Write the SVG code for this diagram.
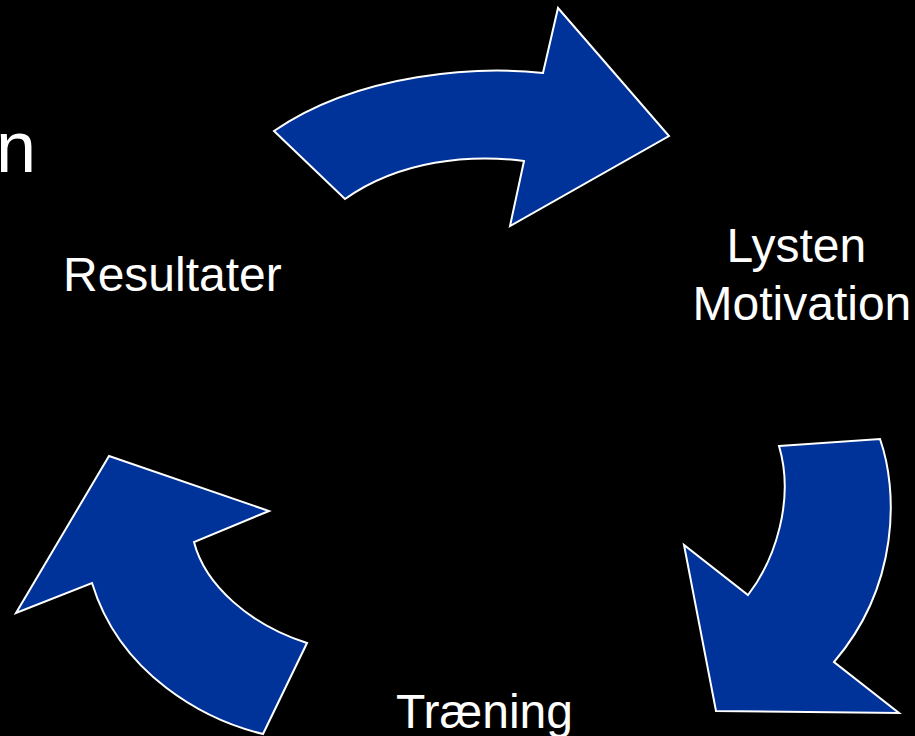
<svg xmlns="http://www.w3.org/2000/svg" width="915" height="736" viewBox="0 0 915 736">
  <style>
    .arrow { fill: #003399; stroke: #ffffff; stroke-width: 2; stroke-linejoin: miter; }
    .lbl { fill: #ffffff; font-family: "Liberation Sans", Arial, sans-serif; font-size: 48px; }
  </style>
  <rect x="0" y="0" width="915" height="736" fill="#000000"/>
  <text class="lbl" x="-4" y="172" style="font-size:72px">n</text>
  <g id="connectors">
    <path id="arrow-top" class="arrow" d="M274,131 L345,199 C400,160 470,154 524,161 L510,226 L669,136 L558,8 L543,73 C480,66 360,72 274,131 Z"/>
    <path id="arrow-right" class="arrow" d="M779,446 L880,439 C898,490 900,585 834,662 L899,713 L716,711 L684,545 L748,595 C775,560 795,500 779,446 Z"/>
    <path id="arrow-left" class="arrow" d="M109,456 L269,511 L194,542 C205,585 250,625 307,643 L263,734 C205,720 120,675 92,583 L16,613 Z"/>
  </g>
  <g id="node-resultater">
    <text class="lbl" x="63" y="291">Resultater</text>
  </g>
  <g id="node-lysten">
    <text class="lbl" x="726.5" y="262">Lysten</text>
    <text class="lbl" x="692.5" y="320">Motivation</text>
  </g>
  <g id="node-traening">
    <text class="lbl" x="396" y="728">Træning</text>
  </g>
</svg>
